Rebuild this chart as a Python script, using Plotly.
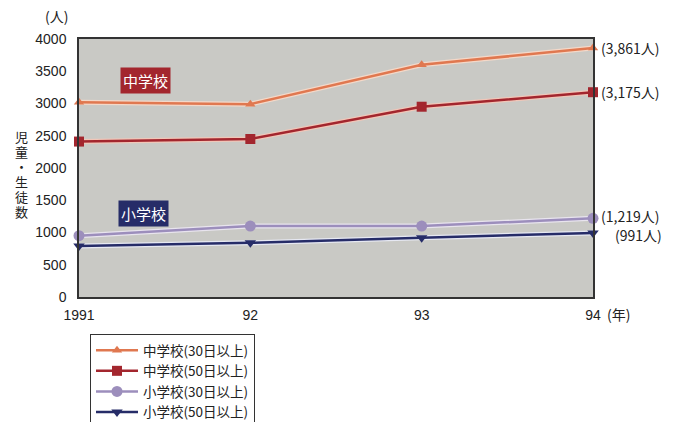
import plotly.graph_objects as go

years = [1991, 1992, 1993, 1994]
year_labels = ["1991", "92", "93", "94"]
jhs_30 = [3020, 2990, 3600, 3861]
jhs_50 = [2410, 2450, 2950, 3175]
es_30 = [950, 1100, 1100, 1219]
es_50 = [790, 840, 920, 991]
series_names = ["中学校(30日以上)", "中学校(50日以上)", "小学校(30日以上)", "小学校(50日以上)"]
end_labels = ["(3,861人)", "(3,175人)", "(1,219人)", "(991人)"]
y_ticks = [0, 500, 1000, 1500, 2000, 2500, 3000, 3500, 4000]
y_title_chars = ["児", "童", "・", "生", "徒", "数"]

colors = ["#E07850", "#A3262E", "#9C8EBC", "#262C68"]
symbols = ["triangle-up", "square", "circle", "triangle-down"]
sizes = [9, 10, 11, 10]
halo = ["#F4D8C8", "#F1C6B8", "#E8E4EE", "#E6E8F2"]

data = [jhs_30, jhs_50, es_30, es_50]
FONT = "Liberation Sans, Arial, Noto Sans CJK JP"
JFONT = "Noto Sans CJK JP"

W, H = 681, 422
L, R, T, B = 79, 88, 39, 125
PW, PH = W - L - R, H - T - B


def px(xp):
    return (xp - L) / PW


def py(yp):
    return (H - B - yp) / PH


fig = go.Figure()
for i, ys in enumerate(data):
    fig.add_trace(go.Scatter(x=years, y=ys, mode="lines", line=dict(color=halo[i], width=5),
                             showlegend=False, hoverinfo="skip", cliponaxis=False))
for i, ys in enumerate(data):
    fig.add_trace(go.Scatter(x=years, y=ys, mode="lines+markers", name=series_names[i],
                             line=dict(color=colors[i], width=2.5),
                             marker=dict(symbol=symbols[i], size=sizes[i], color=colors[i]),
                             cliponaxis=False))

fig.update_layout(
    width=W, height=H,
    margin=dict(l=L, r=R, t=T, b=B, autoexpand=False),
    paper_bgcolor="white",
    plot_bgcolor="#C9C9C5",
    font=dict(family=FONT, size=14, color="#222"),
    xaxis=dict(range=[1991, 1994], tickvals=years, ticktext=year_labels, showgrid=False,
               zeroline=False, showline=True, linecolor="#333", linewidth=1.5, mirror=True,
               ticks="", tickfont=dict(size=14), ticklabelstandoff=4, automargin=False),
    yaxis=dict(range=[0, 4000], tickvals=y_ticks, showgrid=False, zeroline=False,
               showline=True, linecolor="#333", linewidth=1.5, mirror=True,
               ticks="", tickfont=dict(size=14), ticklabelstandoff=8, automargin=False),
    legend=dict(x=px(90), xanchor="left", y=py(334), yanchor="top", xref="paper", yref="paper",
                bgcolor="white", bordercolor="#333", borderwidth=1,
                font=dict(family=JFONT, size=13.5), tracegroupgap=0, itemwidth=42),
)

# end labels
end_y = [jhs_30[-1], jhs_50[-1], es_30[-1], es_50[-1]]
end_xshift = [6, 6, 6, 20]
end_yshift = [0, 0, 2, -2]
for i, lab in enumerate(end_labels):
    fig.add_annotation(x=1994, y=end_y[i], text=lab, showarrow=False, xanchor="left",
                       xshift=end_xshift[i], yshift=end_yshift[i], font=dict(family=JFONT, size=14))

# category labels
fig.add_annotation(x=px(120), y=3350, xref="paper", yref="y", text="中学校", showarrow=False,
                   xanchor="left", bgcolor="#A3262E", font=dict(family=JFONT, size=15, color="white"),
                   borderpad=2)
fig.add_annotation(x=px(118), y=1300, xref="paper", yref="y", text="小学校", showarrow=False,
                   xanchor="left", bgcolor="#262C68", font=dict(family=JFONT, size=15, color="white"),
                   borderpad=2)

# unit labels
fig.add_annotation(x=px(56), y=py(16), xref="paper", yref="paper", text="(人)", showarrow=False,
                   xanchor="center", yanchor="middle", font=dict(family=JFONT, size=14))
fig.add_annotation(x=1994, y=0, xref="x", yref="y", text="(年)", showarrow=False,
                   xanchor="left", yanchor="top", xshift=12, yshift=-5, font=dict(family=JFONT, size=14))

# vertical y-axis title, one character per row
for k, ch in enumerate(y_title_chars):
    fig.add_annotation(x=px(21), y=py(136 + k * 15), xref="paper", yref="paper", text=ch,
                       showarrow=False, xanchor="center", yanchor="middle",
                       font=dict(family=JFONT, size=13))

fig.write_html("out.html")
